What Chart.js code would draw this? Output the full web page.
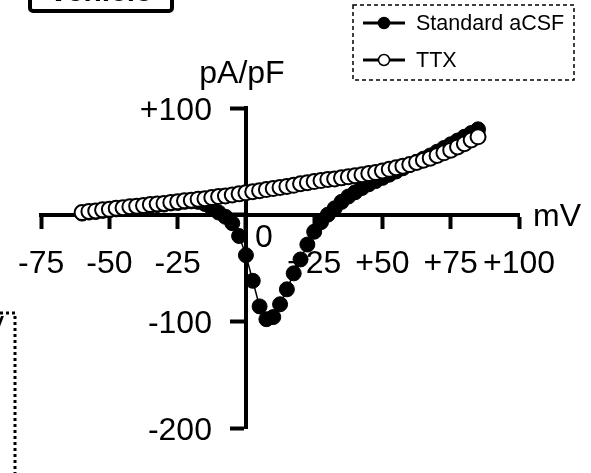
<!DOCTYPE html>
<html>
<head>
<meta charset="utf-8">
<script src="https://cdn.jsdelivr.net/npm/chart.js@4.4.1/dist/chart.umd.min.js"></script>
<style>
  html, body { margin: 0; padding: 0; background: #fff; }
  #wrap { width: 591px; height: 473px; position: relative; }
</style>
</head>
<body>
<div id="wrap"><canvas id="ivChart" width="591" height="473"></canvas></div>
<script>
const voltages = [
  -60, -57.5, -55, -52.5, -50, -47.5, -45, -42.5, -40, -37.5,
  -35, -32.5, -30, -27.5, -25, -22.5, -20, -17.5, -15, -12.5,
  -10, -7.5, -5, -2.5, 0, 2.5, 5, 7.5, 10, 12.5,
  15, 17.5, 20, 22.5, 25, 27.5, 30, 32.5, 35, 37.5,
  40, 42.5, 45, 47.5, 50, 52.5, 55, 57.5, 60, 62.5,
  65, 67.5, 70, 72.5, 75, 77.5, 80, 82.5, 85
];

const standardAcsf = [
  1, 2, 2.5, 3.5, 4, 5, 5.5, 6.5, 7, 7.5,
  8.5, 9, 9.5, 10.5, 11, 12, 12.5, 12, 10, 6,
  2, -2, -8, -20, -38, -62, -86, -98, -96, -84,
  -70, -55, -42, -28, -16, -7, 0, 6, 12, 17,
  21, 25, 28.5, 31.5, 34.5, 37.5, 40.5, 43.5, 46.5, 49.5,
  52.5, 55.5, 59, 62.5, 66, 69.5, 73, 76.5, 80
];

const ttx = [
  2, 3, 3.5, 4.5, 5, 6, 6.5, 7.5, 8, 8.5,
  9.5, 10, 10.5, 11.5, 12, 13, 13.5, 14.5, 15, 16,
  17, 17.5, 18.5, 19.5, 20.5, 21.5, 22.5, 23.5, 24.5, 25.5,
  26.5, 27.5, 29, 30, 31, 32, 33, 33.5, 34.5, 35.5,
  36.5, 37.5, 38.5, 39.5, 41, 42.5, 44, 45.5, 47, 49,
  51, 53, 55.5, 58, 60.5, 63.5, 66.5, 70, 73
];

const xTicks = [-75, -50, -25, 0, 25, 50, 75, 100];
const yTicks = [100, 0, -100, -200];
const seriesLabels = ['Standard aCSF', 'TTX'];

const FONT = "'Liberation Sans', Arial, sans-serif";

function signed(value) {
  if (value === 0) return '';
  return value > 0 ? '+' + value : String(value);
}

function toPoints(ys) {
  return voltages.map((v, i) => ({ x: v, y: ys[i] }));
}

const decorPlugin = {
  id: 'decor',
  afterDraw(chart) {
    const ctx = chart.ctx;
    const xs = chart.scales.x;
    const ys = chart.scales.y;
    const x0 = xs.getPixelForValue(0);
    const y0 = ys.getPixelForValue(0);

    ctx.save();
    ctx.fillStyle = '#000';
    ctx.font = '32px ' + FONT;

    // y tick labels sit left of the tick marks
    ctx.textAlign = 'right';
    ctx.textBaseline = 'middle';
    yTicks.forEach(v => {
      const label = signed(v);
      if (label) ctx.fillText(label, x0 - 34, ys.getPixelForValue(v) + 3);
    });

    // origin label
    ctx.textAlign = 'center';
    ctx.fillText('0', x0 + 18, y0 + 24);

    // axis units
    ctx.textBaseline = 'alphabetic';
    ctx.fillText('pA/pF', x0 - 4, ys.top - 25);
    ctx.textAlign = 'left';
    ctx.textBaseline = 'middle';
    ctx.fillText('mV', xs.right + 14, y0 + 3);

    drawLegend(ctx, chart);
    drawNeighbours(ctx);
    ctx.restore();
  }
};

function drawLegend(ctx, chart) {
  const box = { x: 353, y: 5, w: 221, h: 75 };
  ctx.save();
  ctx.strokeStyle = '#000';
  ctx.lineWidth = 1.5;
  ctx.setLineDash([4, 3]);
  ctx.strokeRect(box.x, box.y, box.w, box.h);
  ctx.setLineDash([]);

  const rows = [23, 60];
  chart.data.datasets.forEach((ds, i) => {
    const y = rows[i];
    ctx.lineWidth = 3;
    ctx.beginPath();
    ctx.moveTo(363, y);
    ctx.lineTo(405, y);
    ctx.stroke();
    ctx.beginPath();
    ctx.arc(384, y, 5.5, 0, Math.PI * 2);
    ctx.fillStyle = ds.pointBackgroundColor;
    ctx.fill();
    ctx.lineWidth = 1.5;
    ctx.stroke();
    ctx.fillStyle = '#000';
    ctx.font = '21.5px ' + FONT;
    ctx.textAlign = 'left';
    ctx.textBaseline = 'middle';
    ctx.fillText(ds.label, 416, y + 1);
  });
  ctx.restore();
}

function drawNeighbours(ctx) {
  // edge of the "vehicle" panel label above
  ctx.save();
  ctx.strokeStyle = '#000';
  ctx.lineWidth = 4;
  ctx.beginPath();
  ctx.roundRect(30, -30, 142, 41, 3);
  ctx.stroke();
  ctx.fillStyle = '#000';
  ctx.font = 'bold 30px ' + FONT;
  ctx.textAlign = 'center';
  ctx.textBaseline = 'alphabetic';
  ctx.fillText('vehicle', 101, 1);

  // dotted frame of the panel to the left
  ctx.lineWidth = 3;
  ctx.setLineDash([3, 3]);
  ctx.beginPath();
  ctx.moveTo(0, 313);
  ctx.lineTo(15, 313);
  ctx.lineTo(15, 473);
  ctx.stroke();
  ctx.setLineDash([]);
  ctx.font = '32px ' + FONT;
  ctx.textAlign = 'right';
  ctx.fillText('y', 4, 333);
  ctx.restore();
}

function renderChart() {
  const canvas = document.getElementById('ivChart');

  new Chart(canvas, {
    type: 'scatter',
    data: {
      datasets: [
        {
          label: seriesLabels[0],
          data: toPoints(standardAcsf),
          showLine: true,
          borderColor: '#000',
          borderWidth: 1.5,
          pointRadius: 7.5,
          pointBackgroundColor: '#000',
          pointBorderColor: '#000',
          pointBorderWidth: 1,
          order: 2
        },
        {
          label: seriesLabels[1],
          data: toPoints(ttx),
          showLine: true,
          borderColor: '#000',
          borderWidth: 1.5,
          pointRadius: 7.5,
          pointBackgroundColor: '#fff',
          pointBorderColor: '#000',
          pointBorderWidth: 2,
          order: 1
        }
      ]
    },
    options: {
      responsive: false,
      animation: false,
      events: [],
      layout: {
        padding: { left: 30, right: 72, top: 108, bottom: 45 }
      },
      plugins: {
        legend: { display: false },
        tooltip: { enabled: false }
      },
      scales: {
        x: {
          type: 'linear',
          position: { y: 0 },
          min: xTicks[0],
          max: xTicks[xTicks.length - 1],
          afterBuildTicks: scale => {
            scale.ticks = xTicks.map(v => ({ value: v }));
          },
          border: { display: true, color: '#000', width: 4 },
          grid: {
            display: true,
            drawOnChartArea: false,
            drawTicks: true,
            tickLength: 12,
            tickWidth: 4,
            tickColor: '#000'
          },
          ticks: {
            color: '#000',
            font: { family: FONT, size: 32 },
            padding: 18,
            maxRotation: 0,
            autoSkip: false,
            callback: value => signed(value)
          }
        },
        y: {
          type: 'linear',
          position: { x: 0 },
          min: yTicks[yTicks.length - 1],
          max: yTicks[0],
          afterBuildTicks: scale => {
            scale.ticks = yTicks.slice().reverse().map(v => ({ value: v }));
          },
          border: { display: true, color: '#000', width: 4 },
          grid: {
            display: true,
            drawOnChartArea: false,
            drawTicks: true,
            tickLength: 14,
            tickWidth: 4,
            tickColor: '#000'
          },
          ticks: {
            display: false
          }
        }
      }
    },
    plugins: [decorPlugin]
  });
}

document.addEventListener('DOMContentLoaded', renderChart);
</script>
</body>
</html>
